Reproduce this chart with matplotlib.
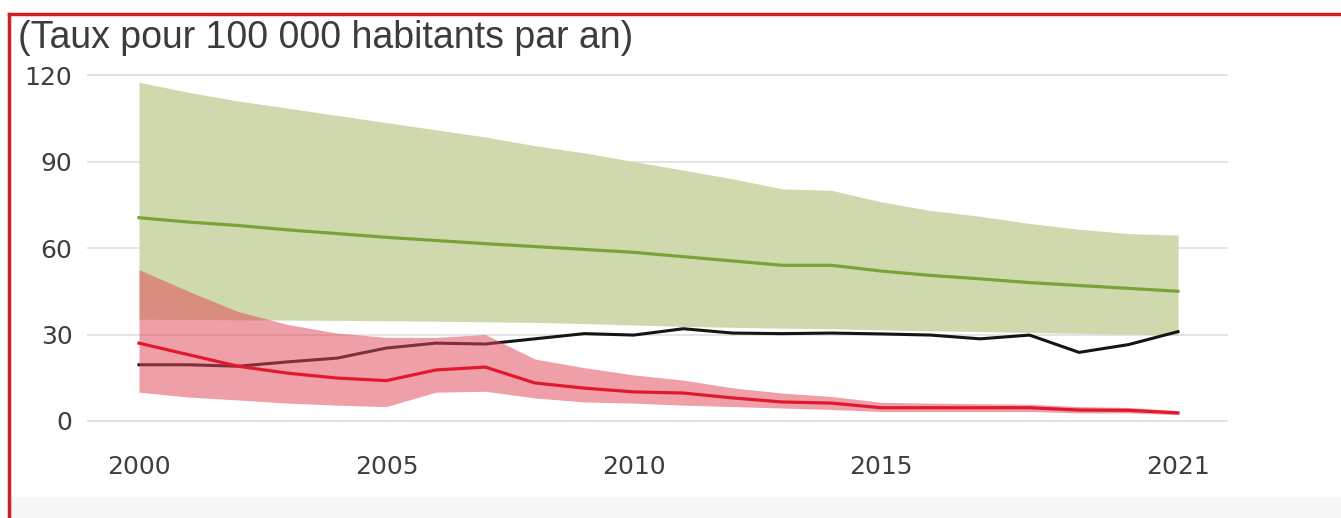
import numpy as np
import matplotlib
matplotlib.use("Agg")
import matplotlib.pyplot as plt
from matplotlib.lines import Line2D
from matplotlib.patches import Rectangle

# ---- data ----
years = list(range(2000, 2022))

green_mid = [70.5, 69.0, 67.8, 66.3, 65.0, 63.7, 62.6, 61.5, 60.5, 59.5, 58.5,
             57.0, 55.5, 54.0, 54.0, 52.0, 50.5, 49.3, 48.0, 47.0, 46.0, 45.0]
green_hi = [117.5, 114.0, 111.0, 108.5, 106.0, 103.5, 101.0, 98.5, 95.5, 93.0, 90.0,
            87.0, 84.0, 80.5, 80.0, 76.0, 73.0, 71.0, 68.5, 66.5, 65.0, 64.5]
green_lo = [35.3, 35.2, 35.1, 35.0, 34.9, 34.8, 34.6, 34.4, 34.2, 33.8, 33.3,
            32.8, 32.5, 32.2, 32.0, 31.6, 31.3, 31.0, 30.7, 30.4, 30.1, 29.8]

black_line = [19.5, 19.5, 19.0, 20.5, 21.8, 25.3, 27.0, 26.7, 28.5, 30.3, 29.8,
              32.0, 30.5, 30.3, 30.5, 30.2, 29.8, 28.5, 29.8, 23.8, 26.5, 31.0]

red_mid = [27.0, 23.0, 19.0, 16.6, 14.9, 14.0, 17.7, 18.7, 13.2, 11.4, 10.1,
           9.7, 8.0, 6.6, 6.2, 4.6, 4.6, 4.6, 4.6, 3.8, 3.7, 2.8]
red_hi = [52.5, 45.0, 38.0, 33.5, 30.5, 29.0, 29.0, 30.0, 21.5, 18.5, 16.0,
          14.2, 11.5, 9.7, 8.5, 6.5, 6.2, 6.0, 5.8, 5.0, 4.7, 3.6]
red_lo = [10.0, 8.3, 7.3, 6.2, 5.5, 5.0, 10.0, 10.3, 8.0, 6.6, 6.2,
          5.5, 5.0, 4.5, 4.0, 3.3, 3.3, 3.3, 3.3, 2.8, 2.8, 2.2]

yticks = [0, 30, 60, 90, 120]
xticks = [2000, 2005, 2010, 2015, 2021]
title = "(Taux pour 100 000 habitants par an)"

# ---- figure ----
W, H = 1341, 518
fig = plt.figure(figsize=(W / 100, H / 100), dpi=100)
fig.patch.set_facecolor("white")

# axes placed in pixel terms
ppu = (421 - 75) / 120.0
ylo, yhi = -2, 122
bottom_px = 421 + 2 * ppu
top_px = 75 - 2 * ppu
left_px, right_px = 87, 1228
ax = fig.add_axes([left_px / W, 1 - bottom_px / H,
                   (right_px - left_px) / W, (bottom_px - top_px) / H])

ax.fill_between(years, green_lo, green_hi, color="#cfd9ad", lw=0, zorder=1)
ax.plot(years, green_mid, color="#7ba23a", lw=2.3, zorder=2)
ax.plot(years, black_line, color="#151515", lw=2.2, zorder=3)
ax.fill_between(years, red_lo, red_hi, color=(226/255, 72/255, 88/255),
                alpha=0.52, lw=0, zorder=4)
ax.plot(years, red_mid, color="#e2192e", lw=2.3, zorder=5)

px_per_year = (1178 - 139) / 21.0
ax.set_xlim(2000 - (139 - left_px) / px_per_year,
            2021 + (right_px - 1178) / px_per_year)
ax.set_ylim(ylo, yhi)

ax.set_yticks(yticks)
ax.set_xticks(xticks)
ax.yaxis.grid(True, color="#e2e2e2", lw=1.3, zorder=0)
ax.set_axisbelow(True)
for s in ax.spines.values():
    s.set_visible(False)
ax.tick_params(axis="both", length=0, labelsize=18, labelcolor="#3e3e3e")
ax.tick_params(axis="y", pad=10.5)
ax.tick_params(axis="x", pad=20)
for lab in ax.get_xticklabels() + ax.get_yticklabels():
    lab.set_family("DejaVu Sans")

fig.text(18 / W, 1 - 20 / H, title, ha="left", va="top",
         fontsize=27, color="#3c3c3c", family="Liberation Sans")

# faint grey strip at the bottom and red frame of the screenshot
fig.patches.append(Rectangle((10 / W, 0), 1, 21 / H, transform=fig.transFigure,
                             color="#f7f7f7", lw=0, zorder=0))
fig.lines.append(Line2D([9 / W, 1], [1 - 14 / H, 1 - 14 / H],
                        transform=fig.transFigure, color="#cc2222", lw=2.5))
fig.lines.append(Line2D([9 / W, 9 / W], [0, 1 - 14 / H],
                        transform=fig.transFigure, color="#cc2222", lw=2.5))

fig.savefig("out.png", dpi=100)
